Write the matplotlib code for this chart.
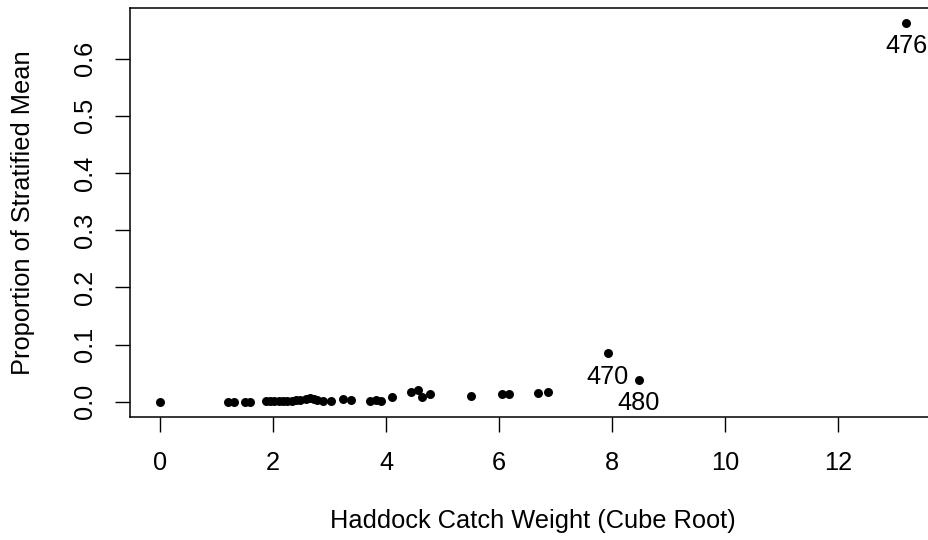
import matplotlib
matplotlib.use("Agg")
import matplotlib.pyplot as plt

plt.rcParams['font.family'] = ['Liberation Sans', 'DejaVu Sans']

catch_cuberoot = [0, 1.20, 1.32, 1.50, 1.59, 1.88, 1.95, 2.02, 2.10, 2.18, 2.25, 2.33,
                  2.40, 2.48, 2.58, 2.65, 2.72, 2.78, 2.88, 3.03, 3.24, 3.38, 3.71,
                  3.83, 3.92, 4.11, 4.45, 4.57, 4.63, 4.78, 5.50, 6.06, 6.18, 6.69,
                  6.87, 7.92, 8.47, 13.2]
prop_strat_mean = [0, 0, 0, 0, 0, 0.001, 0.001, 0.001, 0.001, 0.002, 0.002, 0.002,
                   0.003, 0.003, 0.005, 0.006, 0.005, 0.004, 0.002, 0.002, 0.005, 0.003,
                   0.001, 0.004, 0.002, 0.009, 0.018, 0.021, 0.009, 0.014, 0.011, 0.014,
                   0.014, 0.015, 0.017, 0.085, 0.038, 0.662]
label_ids = ["470", "480", "476"]
label_x = [7.92, 8.47, 13.2]
label_y = [0.085, 0.038, 0.662]
x_ticks = [0, 2, 4, 6, 8, 10, 12]
y_ticks = [0.0, 0.1, 0.2, 0.3, 0.4, 0.5, 0.6]

FS = 18.3
W, H = 929, 540
fig = plt.figure(figsize=(W / 100, H / 100), dpi=100)
left, right, top, bottom = 130, 936, 8, 417
ax = fig.add_axes([left / W, 1 - bottom / H, (right - left) / W, (bottom - top) / H])

ax.scatter(catch_cuberoot, prop_strat_mean, s=42, color='black', linewidths=0, zorder=3)
for t, x, y in zip(label_ids, label_x, label_y):
    ax.annotate(t, (x, y), xytext=(0, -16.8), textcoords='offset points',
                ha='center', va='center', fontsize=FS, annotation_clip=False)

xmin, xmax = min(catch_cuberoot), max(catch_cuberoot)
ymin, ymax = min(prop_strat_mean), max(prop_strat_mean)
ax.set_xlim(xmin - 0.04 * (xmax - xmin), xmax + 0.04 * (xmax - xmin))
ax.set_ylim(ymin - 0.04 * (ymax - ymin), ymax + 0.04 * (ymax - ymin))

ax.set_xticks(x_ticks)
ax.set_xticklabels([str(v) for v in x_ticks])
ax.set_yticks(y_ticks)
ax.set_yticklabels([f"{v:.1f}" for v in y_ticks], rotation=90, va='center')

for s in ax.spines.values():
    s.set_linewidth(1.1)
ax.tick_params(direction='out', length=10.8, width=1.0, labelsize=FS, color='black')
ax.tick_params(axis='x', pad=14.0)
ax.tick_params(axis='y', pad=13)

ax.set_xlabel("Haddock Catch Weight (Cube Root)", fontsize=FS)
ax.set_ylabel("Proportion of Stratified Mean", fontsize=FS)
ax.xaxis.set_label_coords(0.5, -(521 - bottom) / (bottom - top))
ax.yaxis.set_label_coords(-(left - 23) / (right - left), 0.5)
ax.xaxis.label.set_va('center')
ax.yaxis.label.set_va('center')

fig.savefig("out.png", dpi=100)
